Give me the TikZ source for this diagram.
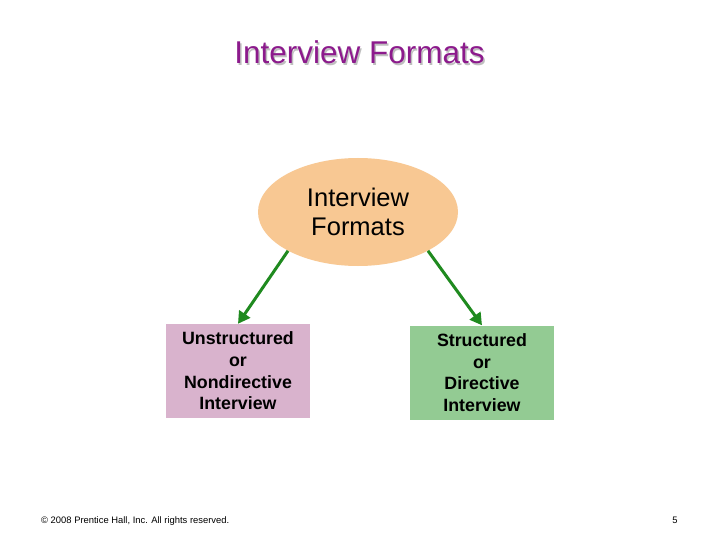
\documentclass[tikz,border=0pt]{standalone}
\usepackage{fontspec}
\setmainfont{Liberation Sans}
\usetikzlibrary{arrows.meta,shapes.geometric}
\definecolor{titlepurple}{HTML}{8C1A8C}
\definecolor{peach}{HTML}{F8C893}
\definecolor{pinkbox}{HTML}{D9B3CD}
\definecolor{greenbox}{HTML}{93CB93}
\definecolor{arrowgreen}{HTML}{1F8A1F}
\tikzset{
  titletext/.style={font=\fontsize{31.5}{36}\selectfont, anchor=base, inner sep=0pt},
  boxnode/.style={minimum width=144pt, minimum height=94pt, inner sep=0pt, align=center,
     font=\fontsize{17.8}{21.6}\selectfont\bfseries},
  conn/.style={draw=arrowgreen, line width=3pt, -{Triangle[length=12pt,width=13pt]}},
  foot/.style={inner sep=0pt, font=\fontsize{9.4}{11}\selectfont},
}
\begin{document}
\begin{tikzpicture}[x=1pt,y=-1pt]
\useasboundingbox (0,0) rectangle (720,540);
\fill[white] (0,0) rectangle (720,540);
% title with shadow
\node[titletext, text=black!25] (titleshadow) at (361,65.5) {Interview Formats};
\node[titletext, text=titlepurple] (title) at (359.5,64) {Interview Formats};
% ellipse
\node[ellipse, fill=peach, minimum width=200pt, minimum height=108pt, inner sep=0pt,
      align=center, font=\fontsize{25.5}{29}\selectfont] (ell) at (358,212) {Interview\\Formats};
% boxes
\node[boxnode, fill=pinkbox] (un) at (238,371) {Unstructured\\or\\Nondirective\\Interview};
\node[boxnode, fill=greenbox] (st) at (482,372.5) {Structured\\or\\Directive\\Interview};
% arrows
\draw[conn] (ell.209) -- (un.north);
\draw[conn] (ell.331) -- (st.north);
% footer
\node[foot, anchor=base west] (copy) at (41,523.5) {© 2008 Prentice Hall, Inc. All rights reserved.};
\node[foot, anchor=base] (page) at (675,523.5) {5};
\end{tikzpicture}
\end{document}
